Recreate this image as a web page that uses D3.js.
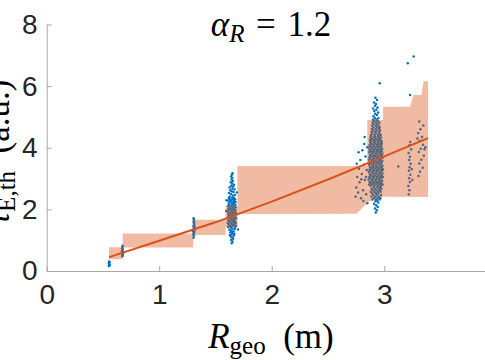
<!DOCTYPE html>
<html>
<head>
<meta charset="utf-8">
<script src="https://cdn.jsdelivr.net/npm/d3@7"></script>
<style>
  body { margin: 0; background: #fff; }
</style>
</head>
<body>
<script>
//SVG dimension variables
var w = 485, h = 360;

//axis ticks
var xTicks = [0, 1, 2, 3];
var yTicks = [0, 2, 4, 6, 8];

//shaded band, upper and lower edge [R, tau]
var bandUpper = [[0.554,0.77],[0.676,0.77],[0.676,1.22],[1.303,1.22],[1.303,1.66],[1.59,1.66],[1.59,2.10],
  [1.695,2.10],[1.695,3.41],[2.85,3.41],[2.85,4.9],[2.99,4.9],[2.99,5.33],[3.23,5.33],[3.26,5.71],
  [3.33,5.71],[3.35,6.16],[3.39,6.16]];
var bandLower = [[0.554,0.38],[0.676,0.38],[0.676,0.76],[1.303,0.76],[1.303,1.17],[1.59,1.17],[1.59,1.43],
  [1.695,1.43],[1.695,1.85],[2.755,1.86],[2.86,2.25],[2.99,2.41],[3.39,2.40]];

//fit line
var fitLine = [[0.555,0.45],[1.0,0.98],[1.5,1.58],[2.0,2.25],[2.5,2.97],[3.0,3.72],[3.39,4.31]];

//scatter points [R, tau], one array per machine
var pts1 = [[0.552,0.16],[0.556,0.22],[0.558,0.28],[0.555,0.31],[0.560,0.19],[0.553,0.25]];

var pts2 = [[0.672,0.48],[0.675,0.53],[0.670,0.58],[0.677,0.62],[0.673,0.66],[0.676,0.70],[0.671,0.74],
  [0.674,0.78],[0.678,0.56],[0.669,0.64],[0.675,0.82],[0.673,0.50]];

var pts3 = [[1.305,1.08],[1.309,1.14],[1.303,1.19],[1.311,1.23],[1.306,1.27],[1.313,1.31],[1.302,1.34],
  [1.308,1.38],[1.315,1.42],[1.304,1.45],[1.310,1.49],[1.307,1.53],[1.312,1.57],[1.305,1.61],[1.309,1.66],
  [1.306,1.71],[1.314,1.36],[1.300,1.29],[1.311,1.47]];

var pts4 = [[1.645,0.90],[1.652,0.96],[1.640,1.01],[1.657,1.05],[1.648,1.09],[1.636,1.12],[1.662,1.14],
  [1.628,1.17],[1.645,1.19],[1.668,1.21],[1.652,1.24],[1.633,1.26],[1.660,1.29],[1.641,1.31],[1.624,1.34],
  [1.671,1.36],[1.650,1.38],[1.637,1.40],
  [1.612,1.43],[1.641,1.43],[1.676,1.43],[1.628,1.47],[1.659,1.47],[1.683,1.47],[1.618,1.51],[1.647,1.51],
  [1.668,1.51],[1.609,1.56],[1.635,1.56],[1.662,1.56],[1.681,1.56],[1.624,1.61],[1.651,1.61],[1.674,1.61],
  [1.615,1.65],[1.643,1.65],[1.666,1.65],[1.632,1.70],[1.657,1.70],[1.684,1.70],[1.608,1.74],[1.639,1.74],
  [1.671,1.74],[1.621,1.79],[1.649,1.79],[1.678,1.79],[1.613,1.83],[1.636,1.83],[1.662,1.83],[1.627,1.88],
  [1.654,1.88],[1.682,1.88],[1.610,1.92],[1.644,1.92],[1.669,1.92],[1.623,1.97],[1.650,1.97],[1.676,1.97],
  [1.615,2.01],[1.638,2.01],[1.664,2.01],[1.629,2.06],[1.656,2.06],[1.680,2.06],[1.611,2.10],[1.642,2.10],
  [1.670,2.10],[1.625,2.15],[1.652,2.15],[1.677,2.15],[1.617,2.19],[1.646,2.19],[1.663,2.19],[1.631,2.24],
  [1.658,2.24],[1.679,2.24],[1.614,2.28],[1.640,2.28],[1.667,2.28],[1.626,2.33],[1.653,2.33],[1.674,2.33],
  [1.619,2.37],[1.647,2.37],[1.665,2.37],
  [1.628,2.42],[1.655,2.44],[1.672,2.47],[1.640,2.50],[1.620,2.53],[1.661,2.56],[1.645,2.59],[1.632,2.62],
  [1.668,2.65],[1.650,2.68],[1.625,2.71],[1.658,2.74],[1.640,2.77],[1.664,2.80],
  [1.648,2.84],[1.636,2.88],[1.655,2.92],[1.643,2.97],[1.650,3.02],[1.639,3.07],[1.646,3.12],[1.652,3.17],
  [1.595,1.95],[1.690,2.55],[1.700,1.35],[1.598,2.30]];

var pts5 = [[2.925,1.90],[2.935,1.97],[2.918,2.03],[2.942,2.08],[2.928,2.13],[2.910,2.18],[2.947,2.22],
  [2.922,2.26],[2.936,2.29],
  [2.895,2.32],[2.927,2.32],[2.958,2.32],[2.910,2.37],[2.941,2.37],[2.966,2.37],[2.886,2.42],[2.920,2.42],
  [2.952,2.42],[2.903,2.47],[2.934,2.47],[2.971,2.47],[2.892,2.52],[2.925,2.52],[2.948,2.52],[2.881,2.57],
  [2.913,2.57],[2.944,2.57],[2.968,2.57],[2.899,2.62],[2.930,2.62],[2.962,2.62],[2.887,2.67],[2.918,2.67],
  [2.951,2.67],[2.975,2.67],[2.906,2.72],[2.937,2.72],[2.965,2.72],[2.879,2.77],[2.912,2.77],[2.946,2.77],
  [2.972,2.77],
  [2.866,2.81],[2.897,2.81],[2.929,2.81],[2.961,2.81],[2.985,2.81],[2.881,2.85],[2.914,2.85],[2.946,2.85],
  [2.975,2.85],[2.870,2.89],[2.903,2.89],[2.935,2.89],[2.967,2.89],[2.888,2.93],[2.921,2.93],[2.953,2.93],
  [2.982,2.93],[2.862,2.97],[2.895,2.97],[2.928,2.97],[2.960,2.97],[2.877,3.01],[2.909,3.01],[2.942,3.01],
  [2.974,3.01],[2.868,3.05],[2.901,3.05],[2.933,3.05],[2.965,3.05],[2.988,3.05],[2.884,3.09],[2.917,3.09],
  [2.949,3.09],[2.979,3.09],[2.872,3.13],[2.905,3.13],[2.938,3.13],[2.970,3.13],[2.891,3.17],[2.924,3.17],
  [2.956,3.17],[2.984,3.17],[2.864,3.21],[2.898,3.21],[2.930,3.21],[2.962,3.21],[2.879,3.25],[2.912,3.25],
  [2.944,3.25],[2.976,3.25],[2.869,3.29],[2.903,3.29],[2.936,3.29],[2.968,3.29],[2.990,3.29],[2.886,3.33],
  [2.919,3.33],[2.951,3.33],[2.981,3.33],[2.874,3.37],[2.907,3.37],[2.940,3.37],[2.972,3.37],[2.893,3.41],
  [2.926,3.41],[2.958,3.41],[2.985,3.41],[2.866,3.45],[2.900,3.45],[2.932,3.45],[2.964,3.45],[2.882,3.49],
  [2.915,3.49],[2.947,3.49],[2.978,3.49],[2.871,3.53],[2.904,3.53],[2.937,3.53],[2.969,3.53],[2.888,3.57],
  [2.921,3.57],[2.953,3.57],[2.983,3.57],[2.863,3.61],[2.896,3.61],[2.929,3.61],[2.961,3.61],[2.878,3.65],
  [2.911,3.65],[2.943,3.65],[2.975,3.65],[2.869,3.69],[2.902,3.69],[2.934,3.69],[2.966,3.69],[2.989,3.69],
  [2.885,3.73],[2.918,3.73],[2.950,3.73],[2.980,3.73],[2.873,3.77],[2.906,3.77],[2.939,3.77],[2.971,3.77],
  [2.892,3.81],[2.925,3.81],[2.957,3.81],[2.984,3.81],[2.867,3.85],[2.899,3.85],[2.931,3.85],[2.963,3.85],
  [2.881,3.89],[2.914,3.89],[2.946,3.89],[2.977,3.89],[2.870,3.93],[2.903,3.93],[2.936,3.93],[2.968,3.93],
  [2.887,3.97],[2.920,3.97],[2.952,3.97],[2.982,3.97],[2.865,4.01],[2.897,4.01],[2.930,4.01],[2.962,4.01],
  [2.880,4.05],[2.913,4.05],[2.945,4.05],[2.974,4.05],[2.871,4.09],[2.904,4.09],[2.937,4.09],[2.967,4.09],
  [2.889,4.13],[2.922,4.13],[2.954,4.13],[2.979,4.13],[2.876,4.17],[2.909,4.17],[2.941,4.17],[2.971,4.17],
  [2.884,4.21],[2.917,4.21],[2.950,4.21],[2.976,4.21],[2.873,4.25],[2.906,4.25],[2.938,4.25],[2.966,4.25],
  [2.891,4.29],[2.924,4.29],[2.956,4.29],[2.879,4.33],[2.911,4.33],[2.944,4.33],[2.972,4.33],[2.886,4.37],
  [2.919,4.37],[2.951,4.37],
  [2.882,4.41],[2.914,4.41],[2.946,4.41],[2.969,4.41],[2.895,4.46],[2.928,4.46],[2.958,4.46],[2.887,4.51],
  [2.920,4.51],[2.952,4.51],[2.901,4.56],[2.933,4.56],[2.963,4.56],[2.890,4.61],[2.923,4.61],[2.955,4.61],
  [2.905,4.66],[2.937,4.66],[2.960,4.66],[2.893,4.71],[2.926,4.71],[2.952,4.71],[2.908,4.76],[2.940,4.76],
  [2.897,4.81],[2.929,4.81],[2.957,4.81],[2.912,4.86],[2.944,4.86],[2.900,4.91],[2.932,4.91],[2.917,4.96],
  [2.948,4.96],
  [2.905,5.02],[2.935,5.06],[2.920,5.10],[2.946,5.14],[2.912,5.19],[2.930,5.23],[2.901,5.27],[2.940,5.31],
  [2.918,5.36],[2.927,5.42],[2.909,5.47],[2.936,5.55],[2.922,5.62],
  //scatter left of the cluster
  [2.745,2.42],[2.752,2.71],[2.760,3.05],[2.768,2.55],[2.775,3.32],[2.781,2.88],[2.788,3.60],[2.794,2.36],
  [2.801,3.15],[2.806,3.92],[2.812,2.62],[2.818,3.45],[2.823,4.12],[2.829,2.95],[2.834,3.72],[2.840,2.49],
  [2.845,3.28],[2.850,4.02],[2.756,3.48],[2.772,3.85],[2.797,2.98],[2.815,2.27],[2.838,3.05],[2.826,4.35],
  [2.850,2.20]];

var pts6 = [[3.218,2.49],[3.224,2.62],[3.215,2.76],[3.228,2.89],[3.221,3.01],[3.232,3.12],[3.219,3.25],
  [3.226,3.37],[3.235,3.48],[3.222,3.60],[3.229,3.71],[3.217,3.83],[3.240,3.95],[3.225,4.08],[3.231,4.19],
  [3.245,3.30],[3.250,2.95],
  [3.305,3.08],[3.318,3.22],[3.342,3.35],[3.312,3.49],[3.330,3.61],[3.352,3.74],[3.308,3.86],[3.325,3.97],
  [3.345,4.10],[3.315,4.22],[3.336,4.35],[3.302,4.48],[3.322,4.60],[3.348,4.72],[3.311,4.85],[3.358,3.95],
  [3.295,4.30],[3.366,4.02],
  [3.125,3.39],[2.960,6.09],[3.210,6.74],[3.262,6.96],[3.230,5.71]];

window.onload = function(){

    var svg = d3.select("body")
        .append("svg")
        .attr("width", w)
        .attr("height", h)
        .attr("class", "container")
        .style("background-color", "#fff");

    //scales, the x axis runs past the right edge of the picture
    var x = d3.scaleLinear().domain([0, 4]).range([46.7, 496.7]);
    var y = d3.scaleLinear().domain([0, 8]).range([271, 24.5]);

    //all points go under the semi transparent band
    var allPts = [].concat(pts1, pts2, pts3, pts4, pts5, pts6);
    svg.append("g")
        .attr("class", "points")
        .selectAll("circle")
        .data(allPts)
        .enter()
        .append("circle")
        .attr("cx", function(d){ return x(d[0]); })
        .attr("cy", function(d){ return y(d[1]); })
        .attr("r", 1.25)
        .style("fill", "#0072BD");

    //band polygon = upper edge then lower edge backwards
    var line = d3.line()
        .x(function(d){ return x(d[0]); })
        .y(function(d){ return y(d[1]); });

    svg.append("path")
        .attr("class", "band")
        .attr("d", line(bandUpper.concat(bandLower.slice().reverse())) + "Z")
        .style("fill", "#D95319")
        .style("fill-opacity", 0.4)
        .style("stroke", "none");

    svg.append("path")
        .attr("class", "fit")
        .attr("d", line(fitLine))
        .style("fill", "none")
        .style("stroke", "#D95319")
        .style("stroke-width", 2);

    //axes, ticks point inward
    var xAxis = d3.axisBottom(x).tickValues(xTicks).tickFormat(d3.format("d"))
        .tickSizeInner(-5).tickSizeOuter(0).tickPadding(13);
    var yAxis = d3.axisLeft(y).tickValues(yTicks).tickFormat(d3.format("d"))
        .tickSizeInner(-5).tickSizeOuter(0).tickPadding(9);

    var gx = svg.append("g")
        .attr("class", "x axis")
        .attr("transform", "translate(0," + y(0) + ")")
        .call(xAxis);
    var gy = svg.append("g")
        .attr("class", "y axis")
        .attr("transform", "translate(" + x(0) + ",0)")
        .call(yAxis);

    svg.selectAll(".axis path, .axis line")
        .style("stroke", "#a8a8a8")
        .style("stroke-width", 1);
    svg.selectAll(".axis text")
        .style("font-family", "'Liberation Sans', Arial, sans-serif")
        .style("font-size", "28px")
        .style("fill", "#262626");
    gx.selectAll("text").attr("dy", "0.71em");

    //title
    var title = svg.append("text")
        .attr("x", 271)
        .attr("y", 36)
        .attr("text-anchor", "middle")
        .style("font-family", "'Liberation Serif', serif")
        .style("font-size", "35px")
        .style("fill", "#000");
    title.append("tspan").style("font-style", "italic").text("α");
    title.append("tspan").style("font-style", "italic").style("font-size", "25px").attr("dy", 6).text("R");
    title.append("tspan").attr("dy", -6).text("\u2004=\u20041.2");

    //x label
    var xl = svg.append("text")
        .attr("x", 271)
        .attr("y", 348)
        .attr("text-anchor", "middle")
        .style("font-family", "'Liberation Serif', serif")
        .style("font-size", "35px")
        .style("fill", "#000");
    xl.append("tspan").style("font-style", "italic").text("R");
    xl.append("tspan").style("font-size", "25px").attr("dy", 6).text("geo");
    xl.append("tspan").attr("dy", -6).text("\u2002(m)");

    //y label, cut by the left edge
    var yl = svg.append("text")
        .attr("transform", "translate(9,152) rotate(-90)")
        .attr("text-anchor", "middle")
        .style("font-family", "'Liberation Serif', serif")
        .style("font-size", "35px")
        .style("fill", "#000");
    yl.append("tspan").style("font-style", "italic").text("τ");
    yl.append("tspan").style("font-size", "25px").attr("dy", 6).text("E,th");
    yl.append("tspan").attr("dy", -6).text("\u2002(a.u.)");
};
</script>
</body>
</html>
